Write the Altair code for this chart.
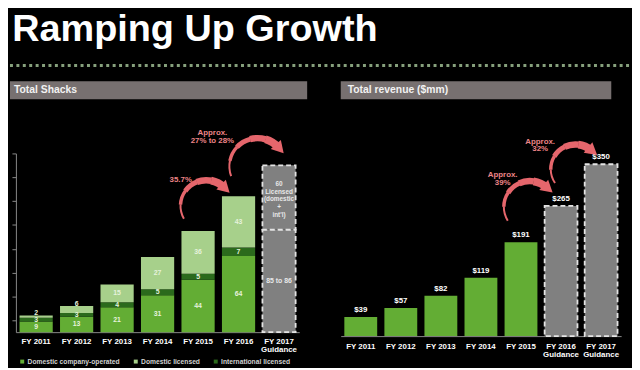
import math
import altair as alt
import pandas as pd

# ---------------- data ----------------
years = ["FY 2011", "FY 2012", "FY 2013", "FY 2014", "FY 2015", "FY 2016"]
company_operated = [9, 13, 21, 31, 44, 64]
international_licensed = [3, 3, 4, 5, 5, 7]
domestic_licensed = [2, 6, 15, 27, 36, 43]
series_names = ["Domestic company-operated", "Domestic licensed", "International licensed"]

guidance_year = "FY 2017|Guidance"
guidance_values = [86, 54]
guidance_labels = ["85 to 86", "60|Licensed|(domestic|+|int'l)"]

rev_years = ["FY 2011", "FY 2012", "FY 2013", "FY 2014", "FY 2015",
             "FY 2016|Guidance", "FY 2017|Guidance"]
revenue = [39, 57, 82, 119, 191, 265, 350]
rev_guidance = [False, False, False, False, False, True, True]

shack_growth = ["35.7%", "Approx.|27% to 28%"]
revenue_growth = ["Approx.|39%", "Approx.|32%"]

title_text = "Ramping Up Growth"
left_header = "Total Shacks"
right_header = "Total revenue ($mm)"

# ---------------- style ----------------
FONT = "Liberation Sans"
GREEN = "#63ad34"
LIGHT = "#a7d08b"
DARK = "#2b6a1c"
GRAY = "#808080"
PINK = "#e5666c"
PINK_TXT = "#ec8487"
HEAD_BG = "#777070"
AXIS_GRAY = "#8a8a8a"
LABEL = "#e6f2dc"

one = pd.DataFrame({"k": [0]})

# ---------------- tables ----------------
rows = []
for i, yv in enumerate(years):
    rows.append({"year": yv, "type": series_names[0], "value": company_operated[i], "ord": 0})
    rows.append({"year": yv, "type": series_names[2], "value": international_licensed[i], "ord": 1})
    rows.append({"year": yv, "type": series_names[1], "value": domestic_licensed[i], "ord": 2})
shacks = pd.DataFrame(rows)

guid = pd.DataFrame({
    "year": [guidance_year] * len(guidance_values),
    "value": guidance_values,
    "label": guidance_labels,
    "ord": list(range(len(guidance_values))),
})

rev_df = pd.DataFrame({"year": rev_years, "rev": revenue, "guidance": rev_guidance})

left_domain = years + [guidance_year]


def x_axis(pad):
    return alt.Axis(title=None, labelAngle=0, ticks=False,
                    labelExpr="split(datum.label, '|')",
                    labelFont=FONT, labelFontSize=8, labelFontWeight="bold",
                    labelColor="white", labelPadding=pad, labelLineHeight=8.5,
                    labelBaseline="top", domainColor=AXIS_GRAY, domainWidth=1)


def arrow(cx, cy, r, a0, tip, widths=(2.0, 3.5, 5.0, 6.5, 8.0), head=190):
    hh = math.sqrt(head) * math.sqrt(3) / 4
    hc = tip - math.degrees(hh / r)
    a1 = hc + 360 if hc < a0 else hc
    out = []
    n = len(widths)
    for i, w in enumerate(widths):
        s = a0 + (a1 - a0) * i / n
        e = a0 + (a1 - a0) * (i + 1) / n + (0.8 if i < n - 1 else 0.5)
        out.append(
            alt.Chart(one).mark_arc(radius=r + w / 2, radius2=r - w / 2,
                                    theta=math.radians(s), theta2=math.radians(e),
                                    color=PINK)
            .encode(x=alt.value(cx), y=alt.value(cy))
        )
    hx = cx + r * math.sin(math.radians(hc))
    hy = cy - r * math.cos(math.radians(hc))
    out.append(
        alt.Chart(one).mark_point(shape="triangle", filled=True, size=head,
                                  angle=(hc + 90) % 360, color=PINK, opacity=1,
                                  strokeWidth=0)
        .encode(x=alt.value(hx), y=alt.value(hy))
    )
    return out


def note(text, x, y, color=PINK_TXT, size=8):
    lines = text.split("|")
    top = y - (len(lines) - 1) * 8 / 2
    return (alt.Chart(one)
            .mark_text(text=lines, font=FONT, fontSize=size, fontWeight="bold",
                       color=color, align="center", baseline="middle", lineHeight=8)
            .encode(x=alt.value(x), y=alt.value(top)))


# ---------------- left panel ----------------
yl_scale = alt.Scale(domain=[0, 150], nice=False)
xl_scale = alt.Scale(domain=left_domain, paddingInner=0.18, paddingOuter=0.09)
yl_axis = alt.Axis(title=None, labels=False, grid=False,
                   values=[10, 30, 50, 70, 90, 110, 130, 150],
                   tickSize=4, tickColor=AXIS_GRAY, domainColor=AXIS_GRAY)
xl_axis = x_axis(5.5)


def XL():
    return alt.X("year:N", scale=xl_scale, axis=xl_axis)


def YL(field):
    return alt.Y(field, scale=yl_scale, axis=yl_axis)


stacked = (alt.Chart(shacks)
           .transform_stack(stack="value", groupby=["year"], as_=["y0", "y1"],
                            sort=[alt.SortField("ord")])
           .transform_calculate(
               ty="datum.ord == 2 && datum.value < 8 ? datum.y1 + 2 : (datum.y0 + datum.y1) / 2"))

shack_bars = stacked.mark_bar().encode(
    x=XL(),
    y=YL("y0:Q"),
    y2="y1:Q",
    color=alt.Color("type:N",
                    scale=alt.Scale(domain=series_names, range=[GREEN, LIGHT, DARK]),
                    legend=alt.Legend(orient="none", legendX=3, legendY=207,
                                      direction="horizontal", title=None,
                                      symbolType="square", symbolSize=16,
                                      symbolStrokeWidth=0, labelFont=FONT,
                                      labelFontSize=6.8, labelFontWeight="bold",
                                      labelColor="#d2d2d2",
                                      columnPadding=12, labelOffset=2, padding=0)),
)

shack_text = stacked.mark_text(font=FONT, fontSize=7, fontWeight="bold",
                               color=LABEL, baseline="middle").encode(
    x=XL(),
    y=YL("ty:Q"),
    text="value:Q",
)

gstack = (alt.Chart(guid)
          .transform_stack(stack="value", groupby=["year"], as_=["y0", "y1"],
                           sort=[alt.SortField("ord")])
          .transform_calculate(mid="(datum.y0 + datum.y1) / 2",
                               lines="split(datum.label, '|')"))

guid_bars = gstack.mark_bar(fill=GRAY, stroke="#e4e4e4", strokeDash=[5, 3],
                            strokeWidth=1.8).encode(
    x=XL(),
    y=YL("y0:Q"),
    y2="y1:Q",
)
guid_text_low = gstack.transform_filter("datum.ord == 0").mark_text(
    font=FONT, fontSize=7, fontWeight="bold", color="#e8e8e8",
    baseline="middle", lineHeight=8).encode(
    x=XL(), y=YL("mid:Q"), text="lines:N")
guid_text_up = gstack.transform_filter("datum.ord == 1").mark_text(
    font=FONT, fontSize=6.5, fontWeight="bold", color="#e8e8e8",
    baseline="middle", lineHeight=8, dy=-14).encode(
    x=XL(), y=YL("mid:Q"), text="lines:N")

title_mark = (alt.Chart(one)
              .mark_text(text=title_text, font=FONT, fontSize=38.3, fontWeight="bold",
                         color="white", align="left", baseline="top")
              .encode(x=alt.value(-3.7), y=alt.value(-144)))

dots = (alt.Chart(one)
        .mark_rule(color="#86a07c", strokeWidth=3, strokeDash=[3, 3.5])
        .encode(x=alt.value(-6), x2=alt.value(622), y=alt.value(-89)))

lhead = (alt.Chart(one).mark_rect(color=HEAD_BG)
         .encode(x=alt.value(-6), x2=alt.value(295), y=alt.value(-73), y2=alt.value(-55)))
lhead_t = (alt.Chart(one)
           .mark_text(text=left_header, font=FONT, fontSize=10.5, fontWeight="bold",
                      color="#f2f2f2", align="left", baseline="middle")
           .encode(x=alt.value(-2), y=alt.value(-64)))

left_layers = [title_mark, dots, lhead, lhead_t, shack_bars, shack_text, guid_bars,
               guid_text_low, guid_text_up]
left_layers += arrow(192.7, 53.1, 26.0, 240.0, 57.0)
left_layers += arrow(244.7, 13.0, 28.5, 249.5, 60.0)
left_layers += [note(shack_growth[0], 167, 27), note(shack_growth[1], 199, -17)]

left = alt.layer(*left_layers).properties(width=287, height=181)

# ---------------- right panel ----------------
xr_scale = alt.Scale(domain=rev_years, paddingInner=0.18, paddingOuter=0.09)
yr_scale = alt.Scale(domain=[0, 372], nice=False)
xr_axis = x_axis(6.5)


def XR():
    return alt.X("year:N", scale=xr_scale, axis=xr_axis)


def YR():
    return alt.Y("rev:Q", scale=yr_scale, axis=None)


rev_base = alt.Chart(rev_df)
rev_bars = rev_base.transform_filter("!datum.guidance").mark_bar(color=GREEN).encode(
    x=XR(), y=YR())
rev_gbars = rev_base.transform_filter("datum.guidance").mark_bar(
    fill=GRAY, stroke="#e4e4e4", strokeDash=[5, 3], strokeWidth=1.8).encode(
    x=XR(), y=YR())
rev_text = rev_base.transform_calculate(lbl="'$' + datum.rev").mark_text(
    font=FONT, fontSize=8, fontWeight="bold", color="white",
    baseline="bottom", dy=-3).encode(x=XR(), y=YR(), text="lbl:N")

rhead = (alt.Chart(one).mark_rect(color=HEAD_BG)
         .encode(x=alt.value(0), x2=alt.value(274), y=alt.value(-73), y2=alt.value(-55)))
rhead_t = (alt.Chart(one)
           .mark_text(text=right_header, font=FONT, fontSize=10.5, fontWeight="bold",
                      color="#f2f2f2", align="left", baseline="middle")
           .encode(x=alt.value(7), y=alt.value(-64)))

right_layers = [rhead, rhead_t, rev_bars, rev_gbars, rev_text]
right_layers += arrow(191.4, 54.2, 26.2, 238.0, 54.0)
right_layers += arrow(237.7, 15.9, 25.0, 235.7, 53.0)
right_layers += [note(revenue_growth[0], 164, 26), note(revenue_growth[1], 202, -8)]

right = alt.layer(*right_layers).properties(width=284, height=185)

chart = (alt.hconcat(left, right, spacing=42, bounds="flush")
         .properties(background="#000000", padding=0)
         .configure_view(stroke=None))

chart.save("out.html", embed_options={"renderer": "svg", "actions": False})
